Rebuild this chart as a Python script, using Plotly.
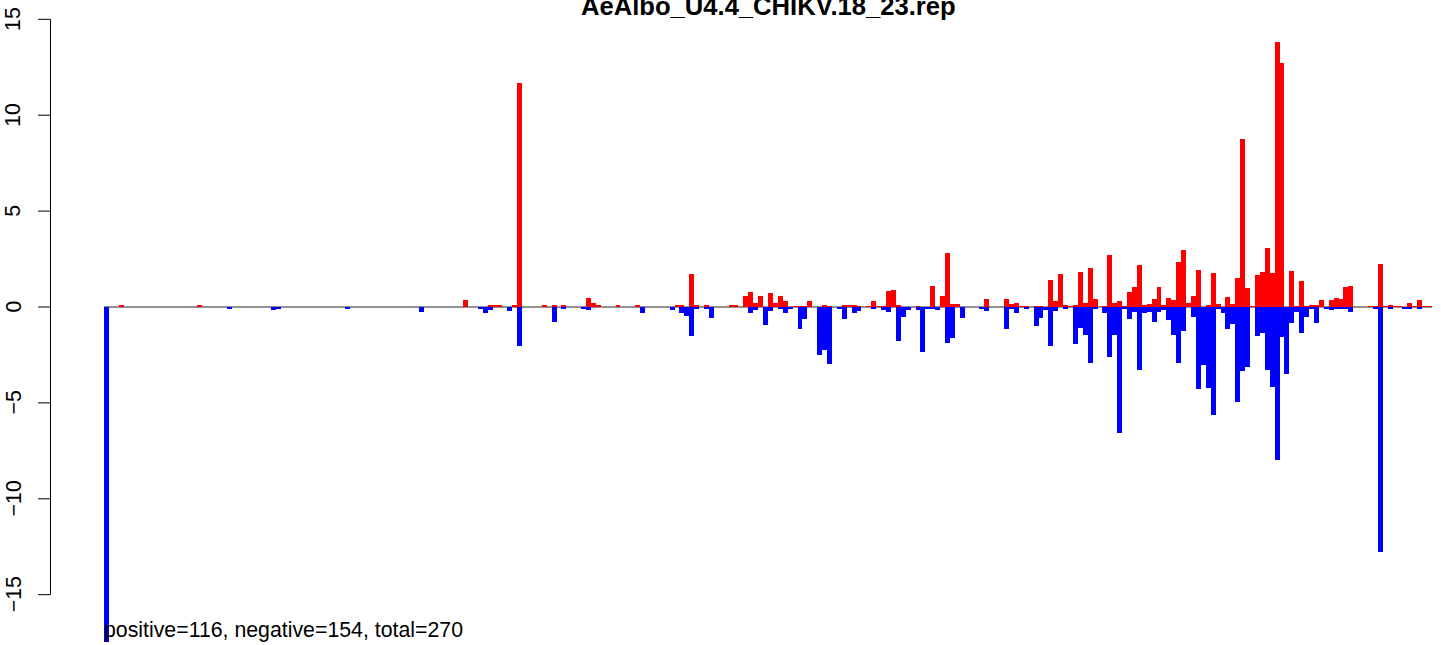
import plotly.graph_objects as go

# ---------------- data ----------------
N_BARS = 270
title_text = "AeAlbo_U4.4_CHIKV.18_23.rep"
footer_text = "positive=116, negative=154, total=270"
y_ticks = [-15, -10, -5, 0, 5, 10, 15]
y_tick_labels = ["\u221215", "\u221210", "\u22125", "0", "5", "10", "15"]

red_idx = [3, 19, 73, 78, 79, 80, 83, 84, 89, 91, 93, 98, 99, 100, 104, 108, 116, 117, 119, 120,
           122, 127, 128, 130, 131, 132, 133, 135, 136, 137, 138, 140, 141, 142, 143, 146, 147, 150,
           151, 152, 153, 155, 156, 157, 158, 159, 160, 161, 165, 168, 170, 171, 172, 173, 179, 183,
           184, 185, 186, 187, 189, 190, 192, 193, 194, 195, 196, 197, 198, 199, 200, 201, 203, 204,
           205, 206, 207, 208, 209, 210, 211, 212, 213, 214, 215, 216, 217, 218, 219, 220, 221, 222,
           224, 225, 226, 228, 229, 230, 231, 232, 233, 234, 235, 236, 237, 238, 239, 241, 242, 243,
           244, 245, 246, 247, 249, 250, 251, 252, 253, 257, 258, 259, 260, 261, 262, 263, 265, 266,
           267, 268, 269]
red_val = [0.07, 0.08, 0.38, 0.12, 0.07, 0.07, 0.07, 11.68, 0.12, 0.07, 0.07, 0.49, 0.23, 0.07, 0.07,
           0.12, 0.07, 0.07, 1.74, 0.12,
           0.12, 0.07, 0.07, 0.59, 0.80, 0.23, 0.59, 0.74, 0.22, 0.57, 0.31, 0.05, 0.05, 0.05, 0.31,
           0.10, 0.05, 0.10,
           0.10, 0.10, 0.05, 0.05, 0.31, 0.05, 0.05, 0.83, 0.89, 0.10, 0.05, 1.10, 0.57, 2.82, 0.16,
           0.16, 0.42, 0.42,
           0.16, 0.21, 0.05, 0.05, 0.05, 0.05, 1.41, 0.31, 1.72, 0.10, 0.05, 0.10, 1.82, 0.21, 2.03,
           0.42, 0.05, 2.71,
           0.21, 0.31, 0.05, 0.78, 1.04, 2.19, 0.10, 0.16, 0.42, 1.04, 0.10, 0.47, 0.37, 2.35, 2.97,
           0.21, 0.57, 1.93,
           0.10, 1.77, 0.16, 0.52, 0.17, 1.51, 8.74, 0.99, 0.05, 1.65, 1.81, 3.06, 1.76, 13.80, 12.70,
           1.86, 0.05, 1.35,
           0.05, 0.10, 0.10, 0.37, 0.37, 0.47, 0.42, 1.04, 1.10, 0.05, 0.05, 2.24, 0.05, 0.10, 0.05,
           0.05, 0.21, 0.05,
           0.37, 0.05, 0.05]

blue_idx = [0, 25, 34, 35, 49, 64, 76, 77, 78, 82, 84, 91, 93, 97, 98, 109, 115, 117, 118, 119, 120,
            122, 123, 131, 132, 134, 135, 137, 138, 139, 141, 142, 145, 146, 147, 149, 150, 152, 153,
            156, 158, 159, 161, 162, 163, 165, 166, 167, 168, 169, 171, 172, 174, 178, 179, 183, 184,
            185, 187, 189, 190, 191, 192, 193, 195, 197, 198, 199, 200, 201, 203, 204, 205, 206, 207,
            208, 209, 210, 211, 212, 213, 214, 215, 216, 217, 218, 219, 221, 222, 223, 224, 225, 226,
            227, 228, 229, 230, 231, 232, 234, 235, 236, 237, 238, 239, 240, 241, 242, 243, 244, 245,
            246, 248, 249, 250, 251, 252, 253, 258, 259, 261, 264, 265, 267]
blue_val = [-17.45, -0.10, -0.14, -0.08, -0.09, -0.25, -0.09, -0.30, -0.14, -0.19, -2.03, -0.80, -0.09,
            -0.09, -0.14, -0.30, -0.14, -0.30, -0.45, -1.49, -0.09,
            -0.09, -0.56, -0.30, -0.14, -0.92, -0.19, -0.09, -0.30, -0.09, -1.15, -0.61, -2.49, -2.22,
            -2.95, -0.09, -0.61, -0.30, -0.19,
            -0.09, -0.14, -0.24, -1.76, -0.50, -0.14, -0.14, -2.33, -0.07, -0.07, -0.14, -1.86, -1.60,
            -0.56, -0.09, -0.19, -1.13, -0.09,
            -0.30, -0.09, -0.97, -0.56, -0.14, -2.02, -0.19, -0.09, -1.91, -1.08, -1.44, -2.90, -0.09,
            -0.30, -2.59, -1.44, -6.55, -0.09,
            -0.61, -0.24, -3.27, -0.30, -0.24, -0.77, -0.24, -0.14, -0.66, -1.44, -2.90, -1.23, -0.50,
            -4.26, -3.00, -4.20, -5.61, -0.09,
            -0.30, -1.13, -0.87, -4.95, -3.34, -3.13, -1.51, -1.36, -3.28, -4.17, -7.98, -1.56, -3.49,
            -0.83, -0.26, -1.35, -0.50, -0.10,
            -0.82, -0.10, -0.16, -0.10, -0.10, -0.10, -0.26, -0.10, -12.76, -0.10, -0.10, -0.10, -0.10]

# ---------------- layout geometry ----------------
W, H = 1441, 645
PX0 = 104.0     # pixel of left edge of bar 0
PXU = 4.9185    # pixels per bar
PY0 = 307.0     # pixel of y = 0
PYU = 19.18     # pixels per y unit
ML = 30         # left margin (px)


def px_to_x(p):
    return (p - PX0) / PXU


def py_to_y(p):
    return (PY0 - p) / PYU


def px_to_paper(p):
    return (p - ML) / (W - ML)


x_range = [px_to_x(ML), px_to_x(W)]
y_range = [py_to_y(H), py_to_y(0)]

FONT = "Liberation Sans, Arial, Helvetica, sans-serif"
FS = 21.3

fig = go.Figure()
fig.add_trace(go.Bar(x=[i + 0.5 for i in red_idx], y=red_val, width=1,
                     marker=dict(color="#FF0000", line=dict(width=0)), showlegend=False))
fig.add_trace(go.Bar(x=[i + 0.5 for i in blue_idx], y=blue_val, width=1,
                     marker=dict(color="#0000FF", line=dict(width=0)), showlegend=False))

shapes = []
# zero line across all bars
shapes.append(dict(type="line", xref="x", yref="y", x0=0, x1=N_BARS, y0=0, y1=0,
                   line=dict(color="#6e6e6e", width=1.5), layer="below"))
# y axis line
ax_x = px_to_x(50.5)
shapes.append(dict(type="line", xref="x", yref="y", x0=ax_x, x1=ax_x,
                   y0=min(y_ticks), y1=max(y_ticks), line=dict(color="black", width=1)))
annotations = []
for v, lab in zip(y_ticks, y_tick_labels):
    shapes.append(dict(type="line", xref="x", yref="y", x0=px_to_x(38), x1=ax_x, y0=v, y1=v,
                       line=dict(color="black", width=1)))
    annotations.append(dict(x=px_to_paper(13.6), y=v, xref="paper", yref="y", text=lab,
                            textangle=-90, showarrow=False, xanchor="center", yanchor="middle",
                            font=dict(family=FONT, size=FS, color="black")))

annotations.append(dict(x=px_to_x(768), y=py_to_y(6), xref="x", yref="y",
                        text="<b>" + title_text + "</b>", showarrow=False,
                        xanchor="center", yanchor="middle",
                        font=dict(family=FONT, size=25.6, color="black")))
annotations.append(dict(x=0, y=py_to_y(629.6), xref="x", yref="y", text=footer_text,
                        showarrow=False, xanchor="left", yanchor="middle", xshift=-2,
                        font=dict(family=FONT, size=FS, color="black")))

fig.update_layout(
    width=W, height=H,
    margin=dict(l=ML, r=0, t=0, b=0, pad=0),
    paper_bgcolor="white", plot_bgcolor="white",
    barmode="overlay", bargap=0,
    xaxis=dict(range=x_range, visible=False, showgrid=False, zeroline=False, fixedrange=True),
    yaxis=dict(range=y_range, visible=False, showgrid=False, zeroline=False, fixedrange=True),
    shapes=shapes, annotations=annotations,
    showlegend=False,
)

fig.write_html("out.html", config={"displayModeBar": False},
               post_script="document.body.style.margin='0';document.body.style.overflow='hidden';")
